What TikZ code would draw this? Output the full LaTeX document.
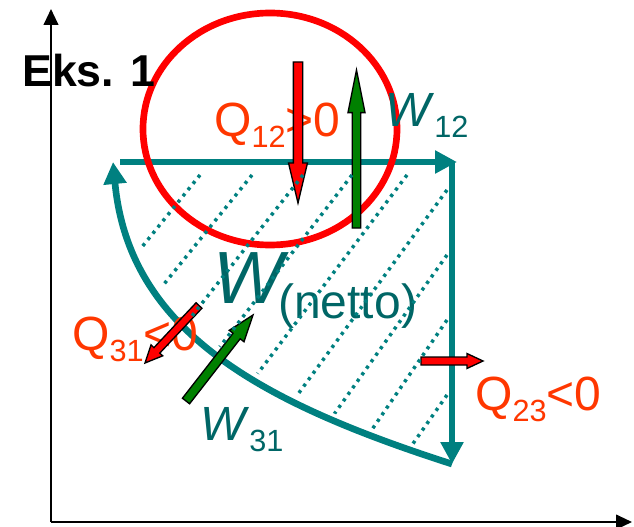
\documentclass[tikz,border=0pt]{standalone}
\usepackage{fontspec}
\setmainfont{Liberation Sans}
\usetikzlibrary{arrows.meta, calc}

\definecolor{cyc}{RGB}{0,128,128}
\definecolor{wlab}{RGB}{0,102,102}
\definecolor{qlab}{RGB}{255,55,0}
\definecolor{heatred}{RGB}{255,0,0}
\definecolor{workgreen}{RGB}{0,128,0}

% lowered index, as the slide sets it
\newcommand{\lsub}[1]{\raisebox{-8.25pt}{\fontsize{23}{23}\selectfont #1}}
% fat arrow: fill, tail, tip, half shaft, head length, half head
\newcommand{\blockarrow}[6]{%
  \coordinate (ba-b) at ($(#3)!#5!(#2)$);
  \filldraw[fill=#1, draw=black, line width=1pt, line join=miter]
    ($(#2)!#4!90:(#3)$) -- ($(ba-b)!#4!-90:(#2)$) -- ($(ba-b)!#6!-90:(#2)$)
    -- (#3) -- ($(ba-b)!#6!90:(#2)$) -- ($(ba-b)!#4!90:(#2)$)
    -- ($(#2)!#4!-90:(#3)$) -- cycle;}

\begin{document}
\begin{tikzpicture}[x=0.75pt, y=-0.75pt,
  axis/.style={line width=1.5pt, -{Triangle[length=12pt, width=11pt]}},
  cycleline/.style={cyc, line width=5pt, -{Triangle[length=16.5pt, width=16.5pt]}},
  hatch/.style={cyc, line width=2.6pt, dash pattern=on 2.4pt off 3.6pt},
  lab/.style={inner sep=0pt, anchor=base west, font=\fontsize{36}{40}\selectfont},
  qlabel/.style={lab, text=qlab},
  wlabel/.style={lab, text=wlab}]
  \useasboundingbox (0,0) rectangle (634,527);

  % axes
  \coordinate (O) at (51,522);
  \coordinate (ytop) at (51,9);
  \coordinate (xend) at (632,522);
  \draw[axis] (O) -- (ytop);
  \draw[axis] (O) -- (xend);

  % the cycle 1 -> 2 -> 3 -> 1
  \coordinate (p1) at (120,162);
  \coordinate (p2) at (457,162);
  \coordinate (p3) at (452,464);
  \coordinate (p1c) at (113,162);
  \draw[cycleline] (p1) -- (p2);
  \draw[cycleline] (p3 |- p2) -- (p3);
  \draw[cycleline] (p3) .. controls (262,403) and (129,332) .. (p1c);

  % ring round step 1-2
  \draw[heatred, line width=5pt] (270,129) ellipse [x radius=95.25pt, y radius=87pt];

  % labels
  \node[lab, font=\bfseries\fontsize{33.5}{36}\selectfont] (eks) at (22,87) {Eks. 1};
  \node[qlabel] (q12) at (214,137) {Q\lsub{12}>0};
  \node[wlabel] (w12) at (385,127) {\textit{W}\lsub{12}};
  \node[wlabel, font=\fontsize{55.5}{60}\selectfont] (wnet) at (213,303) {\textit{W}};
  \node[wlabel] (netto) at (278,318) {(netto)};
  \node[qlabel] (q31) at (72,350) {Q\lsub{31}<0};
  \node[qlabel] (q23) at (475,410) {Q\lsub{23}<0};
  \node[wlabel] (w31) at (200,440) {\textit{W}\lsub{31}};

  % heat and work arrows
  \coordinate (q12t) at (298,62);    \coordinate (q12h) at (298,203);
  \coordinate (w12t) at (356.5,228); \coordinate (w12h) at (356.5,70);
  \coordinate (q23t) at (421,361);   \coordinate (q23h) at (483,361);
  \coordinate (q31t) at (199,305.5); \coordinate (q31h) at (145,363);
  \coordinate (w31t) at (186,401);   \coordinate (w31h) at (253,315);
  \blockarrow{heatred}{q12t}{q12h}{3.5pt}{30pt}{7.1pt}
  \blockarrow{workgreen}{w12t}{w12h}{3.2pt}{32pt}{6.4pt}
  \blockarrow{heatred}{q23t}{q23h}{3pt}{12pt}{5.6pt}
  \blockarrow{heatred}{q31t}{q31h}{3pt}{13pt}{6pt}
  \blockarrow{workgreen}{w31t}{w31h}{3.4pt}{20pt}{7pt}

  % hatching of the enclosed area
  \begin{scope}
    \clip (456,459) .. controls (266,397) and (133,326) .. (117,156) -- (456,156) -- cycle;
    \foreach \hx/\hy/\hs in {200/175/1.24, 252/175/1.24, 303/175/1.27, 352/175/1.3,
        407/175/1.33, 447/190/1.37, 447/255/1.41, 447/320/1.46, 447/395/1.43}
      \draw[hatch] (\hx,\hy) -- ++(-300,{300*\hs});
  \end{scope}
\end{tikzpicture}
\end{document}
